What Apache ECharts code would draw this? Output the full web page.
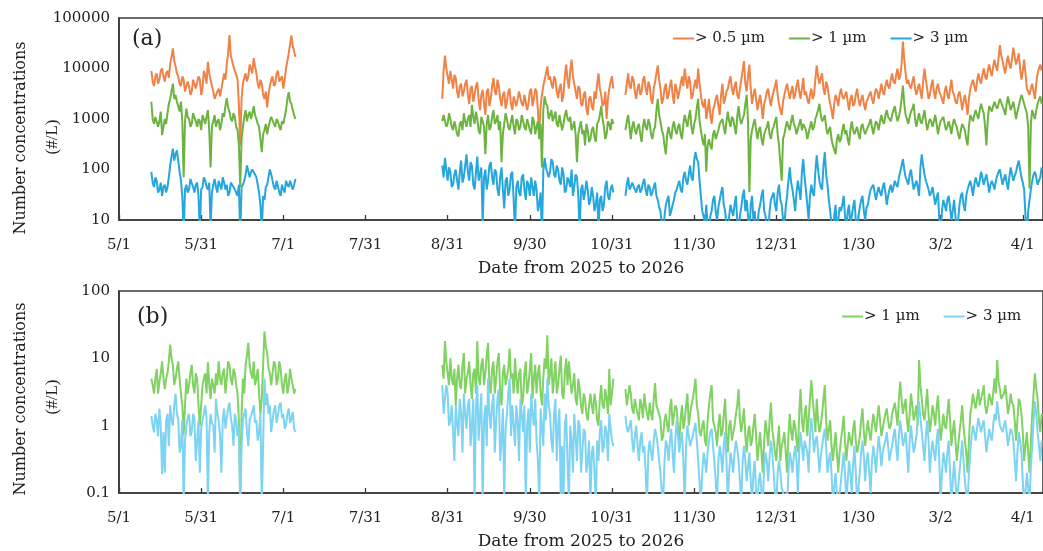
<!DOCTYPE html>
<html>
<head>
<meta charset="utf-8">
<script src="https://cdn.jsdelivr.net/npm/echarts@6/dist/echarts.min.js"></script>
<style>
  html, body { margin: 0; padding: 0; background: #fff; }
  #chart { width: 1043px; height: 551px; }
</style>
</head>
<body>
<div id="chart"></div>
<script>
// ---- time base -------------------------------------------------------------
const axisOrigin = '2025-05-01';                 // x = 0
const segmentStarts = ['2025-05-13', '2025-08-29', '2025-11-05']; // measurement runs
const tickDays = 30.5;                           // major unit of the date axis

// Each run holds two readings per day: "_sN" at 00:00 and "_sN_pm" at 12:00.

// ---- (a) number concentrations, #/L ----------------------------------------
const over05_s1 = [9000,4500,8000,6000,10000,5500,9000,12000,25000,11000,
  7000,4500,6000,3200,4500,3500,5000,3800,6000,4000,
  7500,13500,6000,3500,2600,4000,3000,8000,12000,46000,
  14000,9000,6000,300,5000,8000,7000,10000,16000,8000,
  4000,5000,2500,1700,4500,7000,5000,9000,6000,4000,
  10000,20000,45000,22000];
const over05_s1_pm = [5500,7000,5000,9000,7000,8000,6500,17000,14000,8000,
  5000,7000,3500,5500,3000,6000,4000,7000,3000,9000,
  5000,8000,4500,2500,3500,2800,5500,6000,20000,18000,
  11000,7500,2000,2500,6500,5500,12000,8000,11000,5000,
  6000,3000,3500,3000,6000,4500,8000,5500,7000,6000,
  14000,30000,28000,17000];
const over05_s2 = [2500,18000,7000,9000,4000,6500,2600,5000,3500,6000,
  2000,4500,3000,5300,1500,3800,1200,4000,2500,6500,
  3000,4500,1800,3500,2200,4000,1500,3000,2500,3800,
  1800,3200,2000,4000,2500,3500,480,3000,6000,11000,
  7000,4000,6000,2600,5000,3000,12000,4000,15000,5000,
  2500,4000,1800,3500,1200,2800,1500,2500,8000,3000,
  2000,1000,4000,7000];
const over05_s2_pm = [9000,10000,5000,6000,7500,3500,4500,2800,5000,3000,
  4000,2200,4500,2500,3000,2000,3500,1800,4500,3500,
  6000,2500,3000,1600,3500,2000,2800,1800,3500,2000,
  3000,1500,3500,1800,4000,1500,1800,4500,8000,6000,
  5000,7000,3500,4000,2200,7000,6000,9000,7000,3500,
  4500,2000,3000,1600,2500,1800,3500,5000,4000,1800,
  3500,2500,5500,4000];
const over05_s3 = [3000,8000,4000,6000,2500,5000,3500,7000,3000,4500,
  2000,5500,11500,4000,2500,5000,3000,6000,2000,4000,
  3500,7000,10000,4000,5500,3000,6000,10000,3000,1700,
  1000,2500,800,1800,3000,1200,5000,2500,4000,7000,
  3000,5500,2500,6000,14000,3500,12000,2000,4000,1500,
  3000,1000,2500,4000,1800,3500,6000,2000,1200,3000,
  5000,2500,4500,3000,6000,2500,6500,3500,2000,4000,
  3000,11500,5000,8000,3000,4500,2000,1000,3000,1800,
  4000,2500,3500,1500,3000,2000,4000,1800,3000,1500,
  2500,3500,2000,4000,2500,5000,3000,6000,4000,8000,
  5000,10000,7000,34000,8000,6000,4000,7000,3000,5000,
  2500,10000,4000,3000,6000,2500,5000,3000,2000,4500,
  2500,6000,3000,2000,3500,1500,3000,1200,4000,6000,
  3500,8000,5000,10000,6000,12000,7000,15000,9000,29000,
  14000,8000,18000,10000,26000,12000,20000,6000,15000,4000,
  3000,5000,2500,8000,12000];
const over05_s3_pm = [5000,4500,7000,3500,4000,3000,6000,4000,5500,2500,
  4000,8000,6000,2000,4000,2500,4500,3000,5000,2500,
  5000,4500,6000,7000,2500,4500,4000,5000,2000,2500,
  1500,1200,1500,2500,1800,3000,2000,3500,5500,4000,
  4500,3000,4000,9000,5000,7000,4000,3000,2500,2200,
  1800,2000,3500,2500,2800,4500,3000,1500,2200,4000,
  3500,3500,2500,4500,3500,4000,3000,2500,3000,2500,
  6000,7000,6500,4000,5500,2800,1500,2000,2500,3000,
  2800,3000,2200,2500,1800,3000,2500,2400,2000,2200,
  3000,2500,3000,3500,3500,3500,4500,4500,6000,5500,
  7500,6000,12000,15000,5000,4500,5500,4000,4000,3500,
  5500,6000,2500,4500,3500,4000,3500,2500,3500,3000,
  4000,3500,2200,3000,2500,2200,2000,2500,5000,4500,
  5500,6000,7500,7000,9000,9000,11000,11000,16000,18000,
  10000,13000,12000,16000,17000,15000,10000,9000,8000,3500,
  4000,3500,5000,10000,9000];

const over1_s1 = [2200,800,1200,900,480,1000,1300,2500,5000,3000,
  1800,2200,70,1600,1000,800,1200,700,900,1200,
  800,1500,110,900,700,1000,800,1100,2600,1400,
  900,1100,600,45,700,1500,1200,1000,1800,1000,
  700,220,600,500,900,1200,700,900,600,800,
  1500,3400,2000,1200];
const over1_s1_pm = [1000,1100,700,1400,700,800,2000,3500,2500,2200,
  1400,900,900,1100,700,1300,900,1000,600,1000,
  1100,600,700,1200,900,600,1300,1800,1700,1000,
  1300,700,300,400,1100,900,1400,1300,1200,800,
  400,500,800,700,1100,800,1000,700,900,1100,
  2500,2200,1500,1000];
const over1_s2 = [900,1100,800,1000,600,700,450,900,1300,700,
  1200,1900,800,1000,500,900,200,1200,700,1500,
  900,600,140,800,1000,600,1200,500,900,700,
  1100,600,800,500,900,700,400,110,2800,1800,
  1200,900,1400,700,1100,800,1500,900,600,900,
  140,700,500,300,600,400,700,350,900,1800,
  700,500,800,1000];
const over1_s2_pm = [1200,700,1300,700,900,500,800,600,900,1000,
  700,1100,1400,600,1100,700,800,600,1100,800,
  1200,900,500,1300,700,900,700,1000,600,1200,
  700,1000,600,1100,500,900,800,1500,2000,1000,
  1500,1100,800,1200,600,1200,1000,1100,700,500,
  500,900,600,800,350,600,450,800,1200,1000,
  400,900,600,800];
const over1_s3 = [600,1200,400,900,500,800,350,1000,600,800,
  400,700,2500,900,500,200,700,400,900,500,
  800,400,1200,700,1500,500,1000,2500,600,300,
  90,400,250,600,400,800,1000,500,1400,700,
  1000,500,1800,800,1200,3000,36,600,1000,400,
  700,300,600,900,400,700,1100,300,60,500,
  900,600,1200,700,500,1000,800,600,400,900,
  700,1200,2000,900,1200,500,700,300,200,500,
  400,800,600,300,900,500,700,400,800,500,
  700,1000,500,900,600,1200,800,1500,1000,1200,
  1800,900,1500,4600,1200,800,1400,2000,700,1300,
  800,1500,600,1000,700,1200,500,900,1100,600,
  900,500,1000,700,400,800,600,300,1200,900,
  1500,1000,2000,1300,300,1800,1400,2200,1600,2500,
  1800,1200,2800,1500,2200,1000,1800,3000,2000,1300,
  42,1500,1000,2000,2800];
const over1_s3_pm = [900,700,700,600,700,500,700,700,1000,500,
  600,1500,1200,600,300,500,500,700,600,700,
  500,800,900,1100,700,800,1700,900,400,500,
  300,300,500,400,600,900,700,900,900,1100,
  700,1100,1000,1000,2000,900,400,800,600,600,
  400,500,700,500,600,900,500,300,400,700,
  700,900,800,500,800,600,700,400,700,600,
  1000,1500,1200,1000,700,600,400,300,400,350,
  600,500,400,600,600,600,500,700,600,600,
  800,700,700,800,900,900,1200,1100,900,1500,
  1200,1100,2500,2000,1000,1100,1600,1000,1000,900,
  1100,900,800,900,900,800,700,1000,800,700,
  700,800,800,500,600,700,400,700,1100,1200,
  1200,1500,1600,700,1000,1600,1800,1800,2000,2100,
  1500,2000,2000,1800,1500,1400,2400,2500,1600,700,
  800,1200,1500,2400,2000];

const over3_s1 = [90,45,60,40,30,50,45,120,260,200,
  150,60,5,50,40,60,35,55,6,45,
  60,40,7,50,45,60,40,55,50,35,
  60,40,30,5,50,80,110,90,100,70,
  35,6,25,50,100,60,40,55,30,40,
  60,45,55,50];
const over3_s1_pm = [55,70,35,55,45,35,70,180,150,240,
  90,30,40,35,65,45,50,30,40,70,
  45,55,35,65,35,50,70,40,30,55,
  45,35,50,45,60,120,70,100,80,50,
  20,30,45,70,80,45,60,35,50,35,
  50,60,40,65];
const over3_s2 = [120,170,60,90,50,100,40,150,70,200,
  60,120,40,180,80,8,100,60,140,50,
  90,30,110,17,70,40,90,6,60,30,
  80,25,50,70,30,40,20,5,170,120,
  90,140,70,100,50,80,40,60,100,45,
  70,5,50,35,40,25,30,20,6,30,
  20,60,25,50];
const over3_s2_pm = [70,100,110,45,80,60,90,55,120,90,
  140,50,90,60,110,70,40,120,70,100,
  40,70,40,60,30,80,25,45,35,70,
  40,60,30,45,60,15,35,90,110,70,
  160,80,120,60,110,35,70,45,30,80,
  30,40,25,60,20,45,15,35,25,15,
  45,30,40,35];
const over3_s3 = [30,70,45,60,35,50,40,65,30,45,
  35,55,25,15,5,20,30,15,25,40,
  60,35,90,50,120,60,220,140,30,12,
  20,5,15,30,10,25,45,15,5,20,
  12,30,5,18,40,25,5,30,15,8,
  20,40,12,5,25,35,15,50,20,8,
  30,110,40,15,60,25,160,40,10,50,
  30,190,60,40,220,50,15,5,20,10,
  15,30,6,20,12,25,5,18,30,10,
  20,40,50,25,45,30,55,20,40,35,
  60,45,90,160,70,50,100,40,60,30,
  200,80,50,30,45,20,35,5,25,15,
  30,10,25,5,20,35,15,40,60,30,
  70,45,90,50,80,35,60,40,75,100,
  50,80,40,110,60,90,150,70,40,5,
  25,60,90,50,70];
const over3_s3_pm = [50,40,55,40,45,35,55,40,50,30,
  45,30,18,8,12,25,12,20,35,50,
  40,70,60,80,70,150,160,60,15,8,
  8,12,25,15,18,35,20,8,12,15,
  20,10,12,30,15,12,20,10,5,15,
  30,15,8,15,30,20,35,25,10,18,
  60,55,25,35,40,90,70,20,30,35,
  90,100,45,120,80,25,8,12,6,18,
  20,12,15,8,18,10,12,25,15,18,
  30,45,35,35,35,45,35,30,50,45,
  50,70,120,100,60,80,60,50,45,110,
  120,60,40,35,30,28,10,15,20,25,
  18,15,12,10,30,20,30,50,45,50,
  55,60,70,65,55,50,50,60,90,70,
  65,55,70,80,75,120,100,55,12,15,
  40,80,70,60,110];

// ---- (b) number concentrations, #/L ----------------------------------------
const bOver1_s1 = [5,3,7,4.5,9,3.5,6,16,8,5,
  9,3,0.72,5,4,8,3,5,1,4,
  6,8.7,2.5,4,6,9,4,7,5,8,
  4,6,3,0.08,5,8,17,6,9,5,
  3,2.5,25,12,6,4,8,5,7,3,
  6,4,5,3];
const bOver1_s1_pm = [4,5,3,6,5,5,9,10,4,7,
  5,2,2,3,6,4,6,2,2,5,
  3,4,5,3,4,5,6,3,9,5,
  7,4,1.2,1.5,3,11,8,5,4,7,
  1.5,8,15,7,4,9,4,9,4,5,
  3,7,4,3.5];
const bOver1_s2 = [8,18,6,10,4,2,8,3.5,12,5,
  9,2.5,7,18,4,10,6,17,3,9,
  5,12,2,8,4,14,6,10,3,7,
  2.5,9,4,12,5,3,8,2,10,22,
  6,3,9,4,11,2.5,10,9,3,6,
  2,3.5,1.5,2.5,1.2,3,1.5,2.2,1,4,
  1.8,2.5,7,3];
const bOver1_s2_pm = [5,9,4,5,7,5,4,8,3,6,
  4,6,3,5,8,4,11,4,7,3,
  9,3,6,4,7,5,3,5,6,2,
  6,3,7,2.5,8,6,3,5,7,4,
  10,5,3,7,3,6,4,5,4,2.5,
  5,2,3,1.5,2,2,3,1.2,2.5,2,
  3.5,1.5,2,5];
const bOver1_s3 = [3.5,2,3,1.5,2.5,1.2,2,3,1.5,2.2,
  1.2,4.3,2,1.2,0.7,1.5,0.8,2.5,1,1.8,
  0.6,2,1.2,3,1.5,2.5,5,1.5,0.7,1.2,
  0.5,2,4,1,0.5,1.5,0.8,2.5,0.4,1.2,
  0.6,1.5,3.5,0.8,1.8,0.4,1,0.6,1.5,0.3,
  0.8,0.2,1.2,0.5,2.2,0.6,0.3,1,0.5,0.8,
  0.2,1.5,0.6,1,0.4,3.5,0.8,2,1.2,4.7,
  1.5,2.5,0.8,1.5,4,0.6,1.2,0.3,0.8,0.2,
  0.6,1.4,0.3,0.8,0.5,1.2,0.4,0.7,1.8,0.5,
  1.2,0.6,1.5,0.8,2,0.7,1.2,1.8,0.9,1.5,
  2.2,1,4.5,1.5,2.5,0.8,3,1.2,2,9.4,
  2.5,1.2,3.5,0.8,2,1,2.8,0.6,1.5,0.9,
  2.5,0.5,1.2,0.3,0.8,2,0.6,0.2,1.5,3,
  1.8,3.5,2.5,4,1.5,3,2,5,9.4,3.5,
  2.5,4,1.5,3,2,0.6,2.5,1.5,0.3,0.8,
  0.2,1.5,6,2.5,0.8];
const bOver1_s3_pm = [2,4,1.8,2.5,1.5,2.5,1.3,2,1.2,1.5,
  2.5,2,1.5,0.6,1.2,1,1.8,1,2,1,
  1.3,0.9,2,1,2,3.5,2,0.8,1,0.6,
  1.2,3,1.2,0.8,1,0.7,1.5,0.7,1,0.6,
  1,2,1.2,1.2,0.7,0.8,0.5,1,0.7,0.5,
  0.4,0.6,0.8,1.2,0.9,0.4,0.6,0.3,0.6,0.4,
  0.7,0.8,1.2,0.6,1.5,1.2,1.5,0.7,2.5,2.5,
  0.8,1.2,1,2.5,1.2,0.9,0.5,0.5,0.4,0.4,
  0.9,0.6,0.5,0.6,0.9,0.6,0.5,1.2,0.8,0.8,
  0.8,1,1.1,1.3,1.2,0.9,1.5,1.2,1,1.6,
  1.5,2.5,2.5,2,1.2,1.5,2,1.5,1,4,
  1.5,2,1.5,1.2,1.5,1.8,1.2,0.9,1,1.5,
  1.2,0.8,0.6,0.5,1.2,1,0.4,0.6,2,2.2,
  2.5,2,3,2,2,2.5,3,3,4.5,2.5,
  3,2.5,2,2.2,1.2,1.2,2.2,0.8,0.5,0.4,
  0.6,3,3.5,1.2,1.5];

const bOver3_s1 = [1.4,0.8,1.2,1.8,0.19,0.2,1.5,2,1,3,
  1.2,0.5,0.07,1,1.5,0.8,1.3,0.6,0.2,1.2,
  2,0.07,1.5,1,2.5,1.2,0.2,1.8,1.3,2.2,
  1,1.5,0.7,0.06,1.2,1.8,0.5,1.4,2,1.2,
  0.8,0.07,5,3,2,1.2,2,1.4,2.2,1.5,
  1,1.8,1.3,0.9];
const bOver3_s1_pm = [1,1.5,0.7,1,0.8,1.2,0.5,1.2,2,1.5,
  0.4,1.2,0.6,1.3,0.7,1.5,0.3,1.2,0.9,1.5,
  1.3,0.8,1.1,0.4,1.5,0.7,1.2,0.9,1.8,1.3,
  0.5,1.2,1,0.5,1.5,0.8,1.2,1.6,1.1,0.6,
  1.5,0.5,2,1.5,0.8,1.7,1.1,2,1.3,0.9,
  1.5,1.1,1.6,0.8];
const bOver3_s2 = [4,2.5,3,1.2,0.8,2,0.7,1.5,3,0.9,
  2.5,1,0.08,4,1.5,0.07,2,5,0.9,3,
  1.2,3.5,0.6,0.08,1.5,5,2,0.5,1.2,2.5,
  0.8,0.07,1.8,3,1,0.6,0.07,1,3,5,
  1.5,0.4,2.5,1,0.07,0.08,1.5,0.07,0.6,1.5,
  0.3,1,0.4,0.8,0.3,0.07,0.5,0.07,0.3,1.2,
  0.5,0.8,1.5,0.6];
const bOver3_s2_pm = [1.5,4,1,2,0.3,1.1,2.5,0.4,1.5,2,
  0.5,2.5,1.8,0.6,3,1.2,0.5,1.5,2,0.4,
  2.5,0.3,1.8,0.9,3,0.7,1,2,0.3,1.5,
  2,1,0.4,1.5,2.5,0.3,1.8,0.5,1.2,2,
  0.6,1.5,0.3,1.8,0.5,1,0.3,1,0.2,0.7,
  1.2,0.2,0.9,0.2,0.6,0.4,0.2,0.6,0.8,0.4,
  1,0.3,0.9,0.5];
const bOver3_s3 = [1.4,0.8,1.2,0.4,1,0.3,0.8,0.5,0.07,0.6,
  0.3,0.9,0.5,0.2,0.07,0.6,0.3,0.9,0.2,1.2,
  0.4,0.8,0.07,1,0.5,0.7,1.1,0.3,0.07,0.4,
  0.2,0.6,0.9,0.3,0.07,0.5,0.2,0.8,0.07,0.4,
  0.2,0.6,0.3,0.07,0.5,0.15,0.4,0.07,0.3,0.07,
  0.2,0.07,0.4,0.15,0.6,0.2,0.07,0.3,0.12,0.07,
  0.07,0.4,0.2,0.5,0.1,0.8,0.3,0.6,0.2,1.3,
  0.4,0.7,0.2,0.5,0.9,0.2,0.4,0.07,0.2,0.07,
  0.15,0.4,0.07,0.3,0.1,0.5,0.07,0.2,0.6,0.15,
  0.4,0.1,0.5,0.2,0.7,0.25,0.5,0.8,0.3,0.5,
  0.9,0.3,1.2,0.5,0.8,0.2,1,0.4,0.7,2.3,
  0.8,0.3,1.2,0.2,0.6,0.3,0.9,0.07,0.4,0.2,
  0.6,0.07,0.3,0.07,0.2,0.6,0.15,0.07,0.4,1,
  0.6,1.3,0.8,1.2,0.4,0.9,0.6,1.5,2.3,1,
  0.8,1.2,0.5,0.9,0.6,0.15,0.8,0.4,0.07,0.2,
  0.07,0.5,2.3,0.8,0.3];
const bOver3_s3_pm = [0.9,1,0.6,0.7,0.5,0.6,0.4,0.2,0.4,0.4,
  0.6,0.7,0.3,0.1,0.3,0.5,0.6,0.4,0.6,0.7,
  0.6,0.3,0.5,0.7,0.6,0.9,0.6,0.15,0.2,0.3,
  0.4,0.8,0.5,0.15,0.3,0.35,0.5,0.3,0.2,0.3,
  0.4,0.45,0.15,0.3,0.3,0.25,0.15,0.2,0.1,0.15,
  0.1,0.25,0.3,0.35,0.4,0.1,0.2,0.2,0.1,0.1,
  0.2,0.3,0.35,0.3,0.4,0.5,0.6,0.4,0.7,0.8,
  0.6,0.4,0.35,0.7,0.5,0.3,0.2,0.12,0.1,0.1,
  0.25,0.2,0.15,0.2,0.25,0.2,0.12,0.4,0.35,0.3,
  0.2,0.3,0.35,0.4,0.45,0.4,0.6,0.5,0.4,0.7,
  0.5,0.7,0.8,0.6,0.4,0.6,0.6,0.5,1.2,1.3,
  0.5,0.7,0.6,0.4,0.4,0.6,0.3,0.2,0.3,0.4,
  0.2,0.15,0.15,0.12,0.35,0.3,0.1,0.2,0.7,0.8,
  0.9,1,1,0.7,0.6,0.7,1,1.2,1.5,0.9,
  1,0.8,0.7,0.8,0.3,0.4,0.6,0.15,0.1,0.12,
  0.25,1.2,1.5,0.5,0.6];

// ---- legend text ------------------------------------------------------------
const legendText = {
  a05: '> 0.5 µm', a1: '> 1 µm', a3: '> 3 µm',
  b1: '> 1 µm', b3: '> 3 µm'
};

// ---- helpers ----------------------------------------------------------------
const DAY = 86400000;
const originMs = Date.parse(axisOrigin + 'T00:00:00Z');
const dayOf = s => Math.round((Date.parse(s + 'T00:00:00Z') - originMs) / DAY);

// merge the 00:00 / 12:00 readings of each run into [day, value] pairs,
// with an empty point between runs so the line breaks over the gaps
function joinRuns(runs) {
  const out = [];
  runs.forEach(([am, pm], k) => {
    const d0 = dayOf(segmentStarts[k]);
    if (k > 0) out.push([d0 - 1, '-']);
    am.forEach((v, i) => {
      out.push([d0 + i, v]);
      if (pm[i] !== undefined) out.push([d0 + i + 0.5, pm[i]]);
    });
  });
  return out;
}

function dateLabel(v) {
  const d = new Date(originMs + Math.floor(v + 1e-6) * DAY);
  return (d.getUTCMonth() + 1) + '/' + d.getUTCDate();
}

const serif = 'DejaVu Serif';
const ink = '#222';
const frame = '#3a3a3a';
const pxPerDay = 2.705;
const xMax = 343;

function xAxisFor(gi) {
  return {
    gridIndex: gi, type: 'value', min: 0, max: xMax, interval: tickDays,
    name: 'Date from 2025 to 2026', nameLocation: 'middle', nameGap: 40,
    nameTextStyle: { fontFamily: serif, fontSize: 17, color: ink },
    axisLine: { show: true, onZero: false, lineStyle: { color: frame, width: 1.6 } },
    axisTick: { show: true, inside: true, length: 5, lineStyle: { color: frame, width: 1.3 } },
    axisLabel: { formatter: dateLabel, fontFamily: serif, fontSize: 15, color: ink,
      margin: 18, showMaxLabel: false, showMinLabel: true },
    splitLine: { show: false }
  };
}
function yAxisFor(gi, lo, hi) {
  return {
    gridIndex: gi, type: 'log', logBase: 10, min: lo, max: hi,
    axisLine: { show: true, lineStyle: { color: frame, width: 1.6 } },
    axisTick: { show: false },
    axisLabel: { formatter: v => String(+(+v).toPrecision(6)), fontFamily: serif,
      fontSize: 15, color: ink, margin: 9 },
    splitLine: { show: false }
  };
}
function lineSeries(name, gi, color, runs) {
  return {
    name, type: 'line', xAxisIndex: gi, yAxisIndex: gi,
    data: joinRuns(runs), symbol: 'none', showSymbol: false,
    connectNulls: false, clip: true, sampling: 'none',
    lineStyle: { color, width: 2 }, itemStyle: { color }
  };
}
function legendFor(names, left, top) {
  return {
    data: names, left, top, orient: 'horizontal',
    icon: 'rect', itemWidth: 21, itemHeight: 2, itemGap: 24,
    formatter: n => legendText[n],
    textStyle: { fontFamily: serif, fontSize: 15, color: ink, padding: [0, 0, 0, -4] },
    selectedMode: false
  };
}
function sideTitle(x, y, text, font) {
  return {
    type: 'text', x, y, rotation: Math.PI / 2,
    style: { text, font, fill: ink, align: 'center', verticalAlign: 'middle' }
  };
}

const chart = echarts.init(document.getElementById('chart'), null, { renderer: 'canvas' });
chart.setOption({
  animation: false,
  backgroundColor: '#fff',
  grid: [
    { left: 119, top: 18, width: xMax * pxPerDay, height: 202, show: true,
      borderColor: frame, borderWidth: 1.6, backgroundColor: 'transparent' },
    { left: 119, top: 291, width: xMax * pxPerDay, height: 202, show: true,
      borderColor: frame, borderWidth: 1.6, backgroundColor: 'transparent' }
  ],
  xAxis: [xAxisFor(0), xAxisFor(1)],
  yAxis: [yAxisFor(0, 10, 100000), yAxisFor(1, 0.1, 100)],
  legend: [legendFor(['a05', 'a1', 'a3'], 668, 26), legendFor(['b1', 'b3'], 837, 304)],
  series: [
    lineSeries('a05', 0, '#EF8347', [[over05_s1, over05_s1_pm], [over05_s2, over05_s2_pm], [over05_s3, over05_s3_pm]]),
    lineSeries('a1', 0, '#6CB33F', [[over1_s1, over1_s1_pm], [over1_s2, over1_s2_pm], [over1_s3, over1_s3_pm]]),
    lineSeries('a3', 0, '#25A6DC', [[over3_s1, over3_s1_pm], [over3_s2, over3_s2_pm], [over3_s3, over3_s3_pm]]),
    lineSeries('b1', 1, '#80D263', [[bOver1_s1, bOver1_s1_pm], [bOver1_s2, bOver1_s2_pm], [bOver1_s3, bOver1_s3_pm]]),
    lineSeries('b3', 1, '#7DD3F2', [[bOver3_s1, bOver3_s1_pm], [bOver3_s2, bOver3_s2_pm], [bOver3_s3, bOver3_s3_pm]])
  ],
  graphic: [
    { type: 'text', x: 132, y: 28, style: { text: '(a)', font: '22px "DejaVu Serif"', fill: ink } },
    { type: 'text', x: 137, y: 306, style: { text: '(b)', font: '22px "DejaVu Serif"', fill: ink } },
    sideTitle(21, 138, 'Number concentrations', '16px "DejaVu Serif"'),
    sideTitle(53, 137, '(#/L)', '17px "Liberation Serif"'),
    sideTitle(21, 399, 'Number concentrations', '16px "DejaVu Serif"'),
    sideTitle(53, 397, '(#/L)', '17px "Liberation Serif"')
  ]
});
</script>
</body>
</html>
